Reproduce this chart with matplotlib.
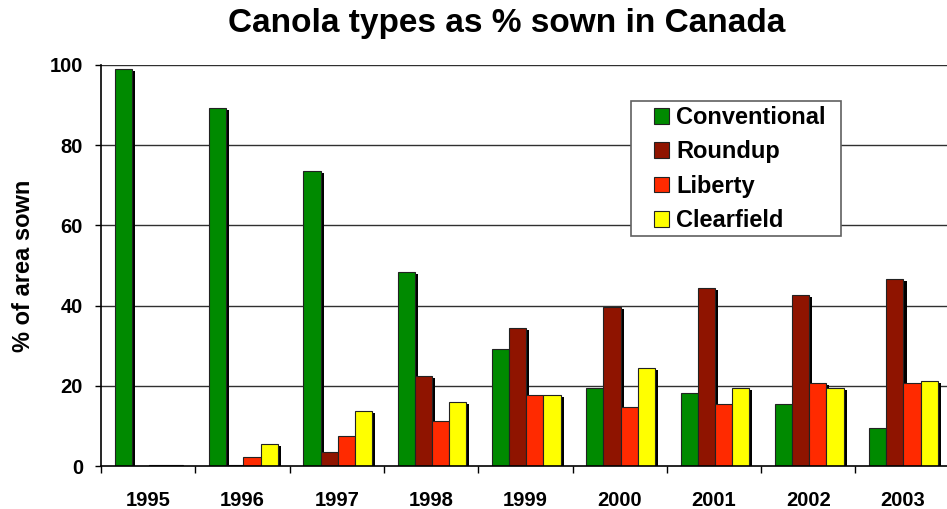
import numpy as np
import matplotlib.pyplot as plt
from matplotlib.patches import Rectangle

# ---------------- DATA ----------------
years = ["1995", "1996", "1997", "1998", "1999", "2000", "2001", "2002", "2003"]
conventional = [98.9, 89.4, 73.5, 48.5, 29.1, 19.5, 18.3, 15.4, 9.4]
roundup = [0.0, 0.3, 3.4, 22.4, 34.3, 39.7, 44.3, 42.6, 46.7]
liberty = [0.3, 2.3, 7.6, 11.1, 17.7, 14.7, 15.4, 20.6, 20.6]
clearfield = [0.3, 5.4, 13.7, 15.9, 17.7, 24.4, 19.5, 19.5, 21.3]

series = [("Conventional", conventional, "#008a00"),
          ("Roundup", roundup, "#8f1400"),
          ("Liberty", liberty, "#ff2a00"),
          ("Clearfield", clearfield, "#ffff00")]

plt.rcParams["font.family"] = ["Liberation Sans", "DejaVu Sans"]
plt.rcParams["font.weight"] = "bold"

W, H = 947, 509
fig = plt.figure(figsize=(W / 100, H / 100), dpi=100)
ax = fig.add_axes([101 / W, 1 - 466 / H, 848.7 / W, 401 / H])

x = np.arange(len(years))
w = 0.182
handles = []
for i, (name, vals, col) in enumerate(series):
    pos = x + (i - 1.5) * w + 0.01
    vals = np.array(vals)
    # drop shadow
    ax.bar(pos + 0.032, np.maximum(vals - 0.5, 0), width=w, color="black",
           linewidth=0, zorder=2)
    b = ax.bar(pos, vals, width=w, color=col, edgecolor="#222222",
               linewidth=0.8, zorder=3, label=name)
    handles.append(b)

ax.set_xlim(-0.5, len(years) - 0.5)
ax.set_ylim(0, 100)
ax.set_yticks([0, 20, 40, 60, 80, 100])
ax.set_xticks(x)
ax.set_xticklabels(years, fontsize=14.5, fontweight="bold")
ax.set_xticks(np.arange(-0.5, len(years) - 0.4, 1), minor=True)
ax.tick_params(axis="x", which="major", length=0, pad=18)
ax.tick_params(axis="x", which="minor", length=5, width=1, color="black")
ax.tick_params(axis="y", length=4.5, width=1, labelsize=14.5, pad=8.5)
for lab in ax.get_yticklabels():
    lab.set_fontweight("bold")

for v in [20, 40, 60, 80, 100]:
    ax.axhline(v, color="#303030", linewidth=1, zorder=1)

for s in ["top", "right"]:
    ax.spines[s].set_visible(False)
ax.spines["left"].set_linewidth(1.2)
ax.spines["bottom"].set_linewidth(1.2)
ax.spines["bottom"].set_zorder(4)

ax.set_ylabel("% of area sown", fontsize=17, fontweight="bold")
ax.yaxis.set_label_coords((35 - 101) / 848.7, 0.5)
fig.suptitle("Canola types as % sown in Canada", fontsize=24,
             fontweight="bold", x=507 / W, y=1 - 8 / H, va="top")

# legend frame and entries
fig.patches.append(Rectangle((631 / W, 1 - 236 / H), 210 / W, 135 / H,
                             transform=fig.transFigure, facecolor="white",
                             edgecolor="#606060", linewidth=1.2, zorder=9))
leg = fig.legend(handles=handles, loc="upper left",
                 bbox_to_anchor=(647 / W, 1 - 99 / H), frameon=False,
                 handlelength=0.65, handleheight=0.65, handletextpad=0.28,
                 labelspacing=0.48, borderpad=0.3, borderaxespad=0,
                 prop={"weight": "bold", "size": 17})
leg.set_zorder(10)

fig.savefig("out.png", dpi=100)
